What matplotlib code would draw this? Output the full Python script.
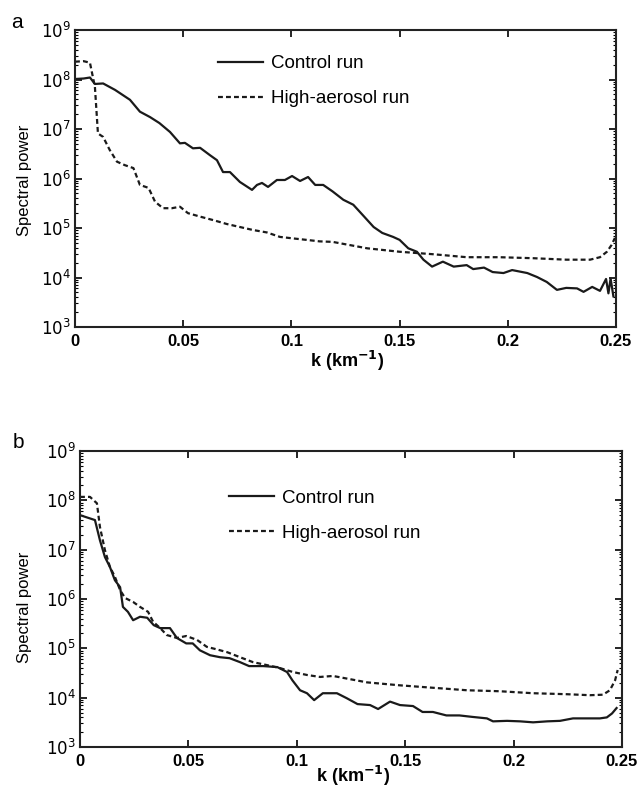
import numpy as np
import matplotlib
matplotlib.use("Agg")
import matplotlib.pyplot as plt
from matplotlib.ticker import FixedLocator, NullFormatter, LogFormatterSciNotation

# ---------------- data (log10 of spectral power) ----------------
a_ctrl_k = [0, 0.004, 0.0069, 0.0092, 0.013, 0.0185, 0.0254, 0.030, 0.0347, 0.039,
            0.0439, 0.0485, 0.0508, 0.0545, 0.0578, 0.0624, 0.0656, 0.0684, 0.0716, 0.0762,
            0.0818, 0.0841, 0.0864, 0.0892, 0.0933, 0.097, 0.1003, 0.104, 0.1077, 0.111,
            0.1147, 0.119, 0.124, 0.1286, 0.133, 0.138, 0.142, 0.147, 0.150, 0.154,
            0.158, 0.161, 0.165, 0.170, 0.175, 0.181, 0.184, 0.189, 0.193, 0.198,
            0.202, 0.209, 0.2135, 0.218, 0.2227, 0.227, 0.232, 0.235, 0.239, 0.2426,
            0.2454, 0.2465, 0.2475, 0.2488]
a_ctrl_logp = [8.01, 8.02, 8.04, 7.91, 7.92, 7.79, 7.59, 7.35, 7.24, 7.12,
               6.94, 6.71, 6.72, 6.61, 6.62, 6.47, 6.37, 6.13, 6.13, 5.93,
               5.77, 5.87, 5.91, 5.83, 5.97, 5.97, 6.05, 5.95, 6.03, 5.87,
               5.87, 5.74, 5.57, 5.47, 5.26, 5.02, 4.90, 4.82, 4.76, 4.59,
               4.52, 4.36, 4.22, 4.32, 4.22, 4.25, 4.17, 4.20, 4.11, 4.09,
               4.15, 4.09, 4.01, 3.91, 3.75, 3.79, 3.78, 3.71, 3.81, 3.73,
               3.97, 3.68, 3.98, 3.62]

a_high_k = [0, 0.004, 0.0069, 0.0092, 0.0106, 0.013, 0.016, 0.0194, 0.023, 0.027,
            0.030, 0.034, 0.037, 0.0407, 0.0448, 0.0485, 0.0522, 0.0578, 0.0638, 0.0702,
            0.0762, 0.0822, 0.0887, 0.0947, 0.1007, 0.107, 0.113, 0.119, 0.135, 0.150,
            0.1655, 0.181, 0.196, 0.2116, 0.227, 0.238, 0.2426, 0.2458, 0.248, 0.2495]
a_high_logp = [8.36, 8.37, 8.34, 7.85, 6.91, 6.84, 6.58, 6.34, 6.27, 6.21,
               5.87, 5.81, 5.53, 5.40, 5.40, 5.43, 5.30, 5.23, 5.16, 5.08,
               5.02, 4.96, 4.91, 4.82, 4.79, 4.76, 4.73, 4.72, 4.59, 4.52,
               4.47, 4.41, 4.41, 4.39, 4.36, 4.36, 4.41, 4.52, 4.66, 4.80]

b_ctrl_k = [0, 0.0069, 0.0092, 0.0115, 0.0138, 0.0161, 0.0185, 0.0198, 0.0221, 0.0245,
            0.0277, 0.031, 0.034, 0.037, 0.0415, 0.0447, 0.049, 0.052, 0.0553, 0.06,
            0.0646, 0.069, 0.0738, 0.078, 0.0845, 0.091, 0.0955, 0.098, 0.1015, 0.1047,
            0.108, 0.112, 0.1185, 0.123, 0.128, 0.1338, 0.1375, 0.143, 0.1476, 0.1536,
            0.158, 0.1628, 0.169, 0.175, 0.181, 0.1877, 0.1905, 0.197, 0.203, 0.209,
            0.2155, 0.2214, 0.2274, 0.2338, 0.2398, 0.243, 0.2454, 0.2475]
b_ctrl_logp = [7.70, 7.60, 7.19, 6.85, 6.65, 6.38, 6.24, 5.84, 5.74, 5.57,
               5.64, 5.62, 5.47, 5.41, 5.41, 5.21, 5.10, 5.10, 4.96, 4.86,
               4.82, 4.80, 4.72, 4.64, 4.64, 4.62, 4.52, 4.35, 4.15, 4.09,
               3.95, 4.09, 4.09, 3.99, 3.87, 3.85, 3.77, 3.92, 3.85, 3.83,
               3.71, 3.71, 3.64, 3.64, 3.61, 3.58, 3.52, 3.53, 3.52, 3.50,
               3.52, 3.53, 3.58, 3.58, 3.58, 3.60, 3.68, 3.79]

b_high_k = [0, 0.0046, 0.0078, 0.0092, 0.0115, 0.0138, 0.0161, 0.0185, 0.0208, 0.0245,
            0.0277, 0.0314, 0.0337, 0.037, 0.04, 0.0447, 0.049, 0.054, 0.0585, 0.063,
            0.068, 0.0738, 0.0798, 0.0862, 0.0922, 0.0982, 0.1047, 0.1107, 0.1167, 0.1324,
            0.1476, 0.163, 0.1785, 0.1937, 0.209, 0.2246, 0.2352, 0.2412, 0.2444, 0.2468,
            0.248]
b_high_logp = [8.07, 8.07, 7.94, 7.46, 6.99, 6.65, 6.45, 6.18, 6.02, 5.94,
               5.84, 5.74, 5.54, 5.41, 5.27, 5.21, 5.25, 5.17, 5.03, 4.98,
               4.92, 4.82, 4.72, 4.66, 4.60, 4.52, 4.46, 4.42, 4.44, 4.31,
               4.25, 4.20, 4.15, 4.13, 4.09, 4.07, 4.05, 4.06, 4.15, 4.35,
               4.56]

x_ticks = [0, 0.05, 0.1, 0.15, 0.2, 0.25]
x_ticklabels = ["0", "0.05", "0.1", "0.15", "0.2", "0.25"]
y_decades = [3, 4, 5, 6, 7, 8, 9]
legend_labels = ["Control run", "High-aerosol run"]
panel_labels = ["a", "b"]

# ---------------- figure ----------------
fig = plt.figure(figsize=(6.38, 7.89), dpi=100)
LC = "#1a1a1a"
narrow = ["Liberation Sans Narrow", "Liberation Sans", "DejaVu Sans"]
sans = ["Liberation Sans", "DejaVu Sans"]

major_y = [10.0 ** d for d in y_decades]
minor_y = [m * 10.0 ** d for d in y_decades[:-1] for m in range(2, 10)]

panels = [
    dict(rect=[75/638, 1-327/789, 541/638, 297/789], ctrl=(a_ctrl_k, a_ctrl_logp),
         high=(a_high_k, a_high_logp), leg=(0.264, 0.915), lab=(17/638, 1-22/789),
         xl=(347/638, 1-361/789), yl=(25/638, 1-180/789)),
    dict(rect=[80/638, 1-747/789, 542/638, 296/789], ctrl=(b_ctrl_k, b_ctrl_logp),
         high=(b_high_k, b_high_logp), leg=(0.275, 0.870), lab=(18/638, 1-443/789),
         xl=(353/638, 1-776/789), yl=(25/638, 1-607/789)),
]

for i, p in enumerate(panels):
    ax = fig.add_axes(p["rect"])
    ck, cl = p["ctrl"]
    hk, hl = p["high"]
    ax.plot(ck, 10 ** np.array(cl), color=LC, lw=1.6, ls="-", label=legend_labels[0])
    ax.plot(hk, 10 ** np.array(hl), color=LC, lw=1.6, ls=(0, (2.2, 1.4)),
            label=legend_labels[1])
    ax.set_yscale("log")
    ax.set_xlim(0, 0.25)
    ax.set_ylim(1e3, 1e9)
    ax.yaxis.set_major_locator(FixedLocator(major_y))
    ax.yaxis.set_major_formatter(LogFormatterSciNotation())
    ax.yaxis.set_minor_locator(FixedLocator(minor_y))
    ax.yaxis.set_minor_formatter(NullFormatter())
    ax.set_xticks(x_ticks)
    ax.set_xticklabels(x_ticklabels, fontfamily=narrow, fontweight="bold", fontsize=11.5)
    for sp in ax.spines.values():
        sp.set_linewidth(1.5)
        sp.set_color("#222222")
    ax.tick_params(which="major", direction="in", length=5, width=1.2,
                   top=True, right=True, labelsize=12, pad=3)
    ax.tick_params(axis="x", which="major", pad=5)
    ax.tick_params(which="minor", direction="in", length=2.5, width=0.8,
                   top=False, right=True)
    ax.legend(loc="upper left", bbox_to_anchor=p["leg"], frameon=False,
              handlelength=2.4, handletextpad=0.45, labelspacing=0.95,
              borderpad=0, borderaxespad=0,
              prop=dict(family=sans, size=13.5))
    fig.text(p["lab"][0], p["lab"][1], panel_labels[i], fontsize=15,
             family=sans, ha="center", va="center")
    fig.text(p["xl"][0], p["xl"][1], r"k (km$^{\mathbf{-1}}$)", fontsize=13,
             family=narrow, fontweight="bold", ha="center", va="center")
    fig.text(p["yl"][0], p["yl"][1], "Spectral power", fontsize=12, family=sans,
             rotation=90, ha="center", va="center")

fig.savefig("out.png", dpi=100)
